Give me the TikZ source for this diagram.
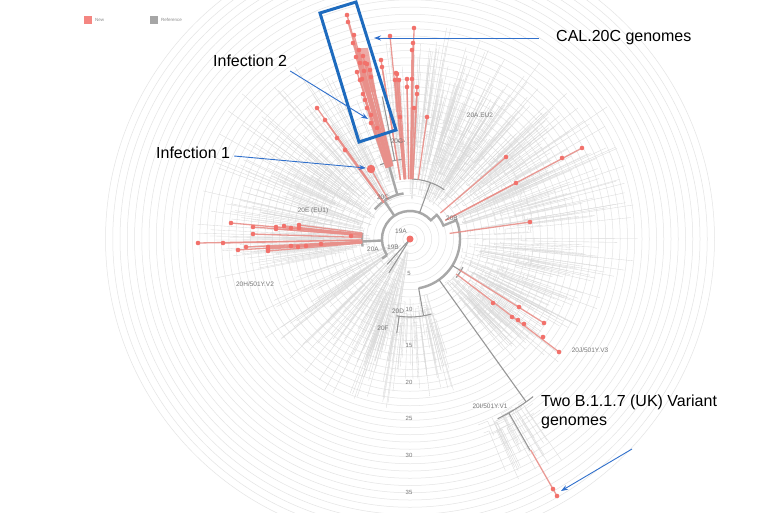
\documentclass[tikz,border=0pt]{standalone}
\usepackage{fontspec}
\setmainfont{Liberation Sans}
\usetikzlibrary{calc,arrows.meta}
\definecolor{newred}{HTML}{F2716B}
\definecolor{newline}{HTML}{E8908A}
\definecolor{refgray}{HTML}{DADADA}
\definecolor{bbgray}{HTML}{A8A8A8}
\definecolor{gridgray}{HTML}{E4E4E4}
\definecolor{annblue}{HTML}{3070CC}
\definecolor{boxblue}{HTML}{1E6BBE}
\definecolor{labgray}{HTML}{777777}
\tikzset{
  gridc/.style={draw=gridgray, line width=0.5pt},
  refl/.style={draw=refgray, line width=0.33pt},
  bb/.style={draw=bbgray, line width=2.4pt},
  bbthin/.style={draw=bbgray!90!black, line width=1.1pt},
  newl/.style={draw=newline, line width=1.3pt, opacity=0.9},
  cladelab/.style={text=labgray, font=\fontsize{6.5}{7}\selectfont, inner sep=0.5pt},
  ringlab/.style={text=labgray, font=\fontsize{6}{7}\selectfont, inner sep=0.5pt},
  legtext/.style={text=black!45, font=\fontsize{4.5}{5}\selectfont, anchor=west, inner sep=0pt},
  annot/.style={text=black, font=\fontsize{16}{18}\selectfont, anchor=west, inner sep=0pt},
  annarrow/.style={draw=annblue, line width=0.9pt, -{Stealth[length=7pt,width=5pt]}},
}
\newcommand\fanrand[7]{%
  \foreach \i in {1,...,#3}{%
    \pgfmathsetmacro\fa{#1+(#2-#1)*rnd}%
    \pgfmathsetmacro\fr{#4+(#5-#4)*rnd}%
    \pgfmathsetmacro\fl{\fr+#6+(#7-#6)*rnd}%
    \pgfmathsetmacro\fd{(rnd-0.5)*8}%
    \draw[refl] (\fa:\fr pt) -- (\fa:\fl pt);
    \draw[refl] (\fa:\fr pt) arc[start angle=\fa, end angle=\fa+\fd, radius=\fr pt];
  }}
\newcommand\newtip[3]{%
  \draw[newl] ($(R)!#3pt!(#1,-#2)$) -- (#1,-#2);}
\newcommand\newdot[2]{%
  \fill[newred] (#1,-#2) circle[radius=2.3pt];}
\begin{document}
\begin{tikzpicture}[x=1pt,y=1pt]
\useasboundingbox (0,0) rectangle (768,-512);
\clip (0,0) rectangle (768,-512);
\fill[white] (0,0) rectangle (768,-512);
\coordinate (R) at (410,-239);

% legend
\fill[newred!85] (84,-16) rectangle (92,-24);
\node[legtext] (legnew) at (95,-20) {New};
\fill[black!35] (150,-16) rectangle (158,-24);
\node[legtext] (legref) at (161,-20) {Reference};

\begin{scope}[shift={(R)}]
  % grid circles
  \foreach \k in {1,...,42}{\draw[gridc] (0,0) circle[radius={\k*7.25pt}];}
  % reference (grey) branches
  \pgfmathsetseed{17}
  \fanrand{92}{112}{40}{60}{110}{20}{100}
  \fanrand{48}{90}{170}{40}{125}{30}{100}
  \fanrand{-22}{46}{170}{50}{125}{30}{115}
  \fanrand{-50}{-20}{90}{55}{110}{30}{90}
  \fanrand{-68}{-55}{30}{195}{215}{15}{55}
  \fanrand{-115}{-72}{70}{55}{100}{20}{70}
  \fanrand{198}{262}{100}{10}{70}{30}{125}
  \fanrand{160}{192}{90}{40}{100}{40}{120}
  \fanrand{114}{160}{110}{40}{110}{30}{120}
  % backbone
  \draw[bb] (215:28pt) arc[start angle=215, end angle=42, radius=28pt]
        -- (42:36pt) arc[start angle=42, end angle=22, radius=36pt]
        -- (22:50pt) arc[start angle=22, end angle=-80, radius=50pt];
  \draw[bb] (183:28pt) -- (183:48pt);
  \draw[bb] (173:48pt) arc[start angle=173, end angle=189, radius=48pt];
  \draw[bb] (215:28pt) -- (215:34pt);
  \draw[bbthin] (0,0) -- (228:34pt);
  \draw[bbthin] (0,0) -- (238:40pt);
  \draw[bb] (124:28pt) -- (124:46pt);
  \draw[bb] (98:46pt) arc[start angle=98, end angle=140, radius=46pt];
  \draw[bb] (106:46pt) -- (106:80pt);
  \draw[bbthin] (95:80pt) arc[start angle=95, end angle=112, radius=80pt];
  \draw[bbthin] (95:80pt) -- (95:100pt);
  \draw[bbthin] (101:80pt) -- (101:145pt);
  \draw[bbthin] (93:98pt) arc[start angle=93, end angle=97, radius=98pt];
  \draw[bbthin] (70:28pt) -- (70:60pt);
  \draw[bbthin] (55:60pt) arc[start angle=55, end angle=88, radius=60pt];
  \draw[bbthin] (-80:50pt) -- (-80:78pt);
  \draw[bbthin] (-74:78pt) arc[start angle=-74, end angle=-100, radius=78pt];
  \draw[bbthin] (-98:78pt) -- (-98:95pt);
  \draw[bbthin] (-32:50pt) -- (-32:60pt);
  \draw[bbthin] (-28:60pt) arc[start angle=-28, end angle=-40, radius=60pt];
  \draw[bbthin] (-54.5:50pt) -- (-54.5:200pt);
  \draw[bbthin] (-52:200pt) arc[start angle=-52, end angle=-64, radius=200pt];
  \draw[bbthin] (-60.4:200pt) -- (-60.4:243pt);
\end{scope}

% new (red) branches
\foreach \x/\y in {347/15,348/22,354/35,353/43,359/50,363/56,356/57,365/63,360/63,367/64,370/70,364/71,357/72,362/79,360/80,371/77,363/94,365/100,367/108,371/115,371/123,377/128}{\newtip{\x}{\y}{75}}
\foreach \x/\y in {414/28,413/43,412/50,390/36,381/60,382/67,396/73,397/74,395/80,399/80,407/79,412/79,407/87,417/87,417/94,414/108,400/117,427/117}{\newtip{\x}{\y}{60}}
\foreach \x/\y in {317/108,325/120,337/138,345/150,371/169}{\newtip{\x}{\y}{45}}
\foreach \x/\y in {231/223,253/227,276/227,276/229,284/226,291/228,299/225,299/228,253/234,351/236,223/243,246/247,268/247,291/246,298/247,306/246,321/244,238/250,268/249,268/251,198/243}{\newtip{\x}{\y}{48}}
\foreach \x/\y in {506/157,582/148,516/183,530/222}{\newtip{\x}{\y}{40}}
\foreach \x/\y in {544/323,559/352}{\newtip{\x}{\y}{58}}
\newtip{557}{496}{243}
% dense CAL.20C band
\fill[newline, opacity=0.75] (355,-48) -- (368,-48) -- (376,-92) -- (363,-92) -- cycle;
\fill[newline, opacity=0.75] (394,-78) -- (399,-78) -- (401,-112) -- (396,-112) -- cycle;
% red tip dots
\foreach \x/\y in {347/15,348/22,354/35,353/43,359/50,363/56,356/57,365/63,360/63,367/64,370/70,364/71,357/72,362/79,360/80,371/77,363/94,365/100,367/108,371/115,371/123,377/128,
  414/28,413/43,412/50,390/36,381/60,382/67,396/73,397/74,395/80,399/80,407/79,412/79,407/87,417/87,417/94,414/108,400/117,427/117,
  317/108,325/120,337/138,345/150,
  231/223,253/227,276/227,276/229,284/226,291/228,299/225,299/228,253/234,351/236,223/243,246/247,268/247,291/246,298/247,306/246,321/244,238/250,268/249,268/251,198/243,
  506/157,582/148,562/158,516/183,530/222,
  544/323,559/352,519/307,493/303,512/317,518/320,524/324,543/337,
  553/489,557/496}{\newdot{\x}{\y}}
\fill[newred] (371,-169) circle[radius=4.2pt];
\fill[newred] (410,-239) circle[radius=3.5pt];

% clade labels
\node[cladelab] (l19a) at (401,-231) {19A};
\node[cladelab] (l20c) at (383,-197) {20C};
\node[cladelab] (l20g) at (397,-141) {20G};
\node[cladelab] (l20aeu2) at (480,-115) {20A.EU2};
\node[cladelab] (l20b) at (452,-218) {20B};
\node[cladelab] (l20a) at (373,-249) {20A};
\node[cladelab] (l19b) at (393,-247) {19B};
\node[cladelab] (l20e) at (313,-211) {20E (EU1)};
\node[cladelab] (l20h) at (255,-284) {20H/501Y.V2};
\node[cladelab] (l20d) at (398,-311) {20D};
\node[cladelab] (l20f) at (383,-328) {20F};
\node[cladelab] (l20j) at (590,-350) {20J/501Y.V3};
\node[cladelab] (l20i) at (490,-406) {20I/501Y.V1};
% ring labels
\node[ringlab] (r5) at (409,-273) {5};
\node[ringlab] (r10) at (409,-309) {10};
\node[ringlab] (r15) at (409,-345) {15};
\node[ringlab] (r20) at (409,-382) {20};
\node[ringlab] (r25) at (409,-418) {25};
\node[ringlab] (r30) at (409,-455) {30};
\node[ringlab] (r35) at (409,-492) {35};

% annotations
\draw[boxblue, line width=3pt, line join=miter] (320,-13) -- (356,-2) -- (396,-130) -- (359,-142) -- cycle;
\node[annot] (cal) at (556,-38) {CAL.20C genomes};
\node[annot] (inf2) at (213,-61) {Infection 2};
\node[annot] (inf1) at (156,-153) {Infection 1};
\node[annot] (uk1) at (541,-402) {Two B.1.1.7 (UK) Variant};
\node[annot] (uk2) at (541,-423) {genomes};
\coordinate (calend) at (374,-38);
\coordinate (inf2end) at (368,-119);
\coordinate (inf1end) at (366,-168);
\coordinate (ukend) at (561,-491);
\draw[annarrow] ([xshift=-17pt]cal.west) -- (calend);
\draw[annarrow] ([xshift=3pt,yshift=-10pt]inf2.east) -- (inf2end);
\draw[annarrow] ([xshift=4pt,yshift=-3pt]inf1.east) -- (inf1end);
\draw[annarrow] (632,-449) -- (ukend);
\end{tikzpicture}
\end{document}
